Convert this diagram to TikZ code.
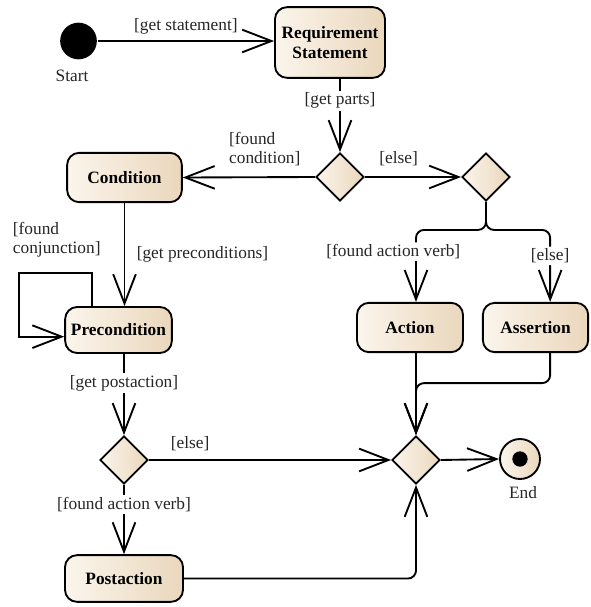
\documentclass[tikz,border=0pt]{standalone}
\usepackage{fontspec}
\setmainfont{Liberation Serif}
\usetikzlibrary{shapes.geometric,arrows.meta}
\definecolor{boxlight}{HTML}{FBF5EC}
\definecolor{boxdark}{HTML}{EAD7BC}

\begin{document}
\begin{tikzpicture}[x=0.75pt, y=-0.75pt, line width=1.4pt,
    act/.style={rectangle, rounded corners=9pt, draw, left color=boxlight, right color=boxdark,
      font=\fontsize{13}{15}\selectfont\bfseries, align=center, inner sep=2pt},
    dec/.style={diamond, draw, aspect=1, minimum width=36pt, minimum height=36pt, inner sep=0pt,
      left color=boxlight, right color=boxdark},
    flow/.style={-{Straight Barb[length=22pt,width=17pt]}},
    lbl/.style={font=\fontsize{13}{14.5}\selectfont, text=black!85, inner sep=1.5pt},
    lblw/.style={lbl, fill=white}]
    \useasboundingbox (0,0) rectangle (590,607);

    % ノード
    \node[circle, fill=black, minimum size=27.5pt, inner sep=0pt] (start) at (78.5,41) {};
    \node[lbl] (startlbl) at (72,76) {Start};
    \node[act, minimum width=82.5pt, minimum height=53pt] (req) at (330,42.5) {Requirement\\Statement};
    \node[dec] (d1) at (340,177) {};
    \node[dec] (d2) at (486,177) {};
    \node[act, minimum width=86pt, minimum height=37pt] (cond) at (124.5,177.5) {Condition};
    \node[act, minimum width=80pt, minimum height=34.5pt] (pre) at (118.5,330) {Precondition};
    \node[act, minimum width=79.5pt, minimum height=37pt] (action) at (410,327.5) {Action};
    \node[act, minimum width=79pt, minimum height=37pt] (assert) at (535.5,327.5) {Assertion};
    \node[dec] (d3) at (124,460) {};
    \node[dec] (merge) at (416,460) {};
    \node[act, minimum width=88.5pt, minimum height=35pt] (post) at (124,578.5) {Postaction};
    \node[circle, draw, minimum size=30pt, inner sep=0pt, left color=boxlight, right color=boxdark] (end) at (520,459) {};
    \node[circle, fill=black, minimum size=11.5pt, inner sep=0pt] (enddot) at (end) {};
    \node[lbl] (endlbl) at (523,493) {End};
    \node[lbl, align=left, anchor=west] (conjlbl) at (10,240) {[found\\conjunction]};

    % 線を引く
    \draw[flow] (start) -- node[lbl, above=3pt] {[get statement]} (start -| req.west);
    \draw[flow] (req.south -| d1.north) -- node[lblw, pos=0.3] {[get parts]} (d1.north);
    \draw[flow] (d1.west) -- node[lbl, above=6pt, align=left, pos=0.38] {[found\\condition]} (cond.east);
    \draw[flow] (d1.east) -- node[lbl, above=6pt, pos=0.35] {[else]} (d2.west);
    \draw[flow, rounded corners=6pt] (d2.south) -- ++(0,28)
      -| node[lblw, pos=0.65, xshift=-17pt] {[found action verb]} (action.north -| merge.north);
    \draw[flow, rounded corners=6pt] (d2.south) -- ++(0,28)
      -| node[lblw, pos=0.68] {[else]} ([xshift=11pt]assert.north);
    \draw[flow] (cond.south) -- node[lbl, right=7pt] {[get preconditions]} (cond.south |- pre.north);
    \draw[flow] ([xshift=-20pt]pre.north) |- (19,273) |- ([yshift=-5pt]pre.west);
    \draw[flow] (pre.south -| d3.north) -- node[lblw, pos=0.36] {[get postaction]} (d3.north);
    \draw[flow] (d3.east) -- node[lbl, above=5pt, pos=0.17] {[else]} (merge.west);
    \draw[flow] (d3.south) -- node[lblw, pos=0.28] {[found action verb]} (post.north);
    \draw[flow, rounded corners=6pt] (post.east) -| (merge.south);
    \draw[flow] (action.south -| merge.north) -- (merge.north);
    \draw[flow, rounded corners=6pt] ([xshift=11pt]assert.south) -- ++(0,30) -| (merge.north);
    \draw[flow] (merge.east) -- (end.west);
\end{tikzpicture}
\end{document}
